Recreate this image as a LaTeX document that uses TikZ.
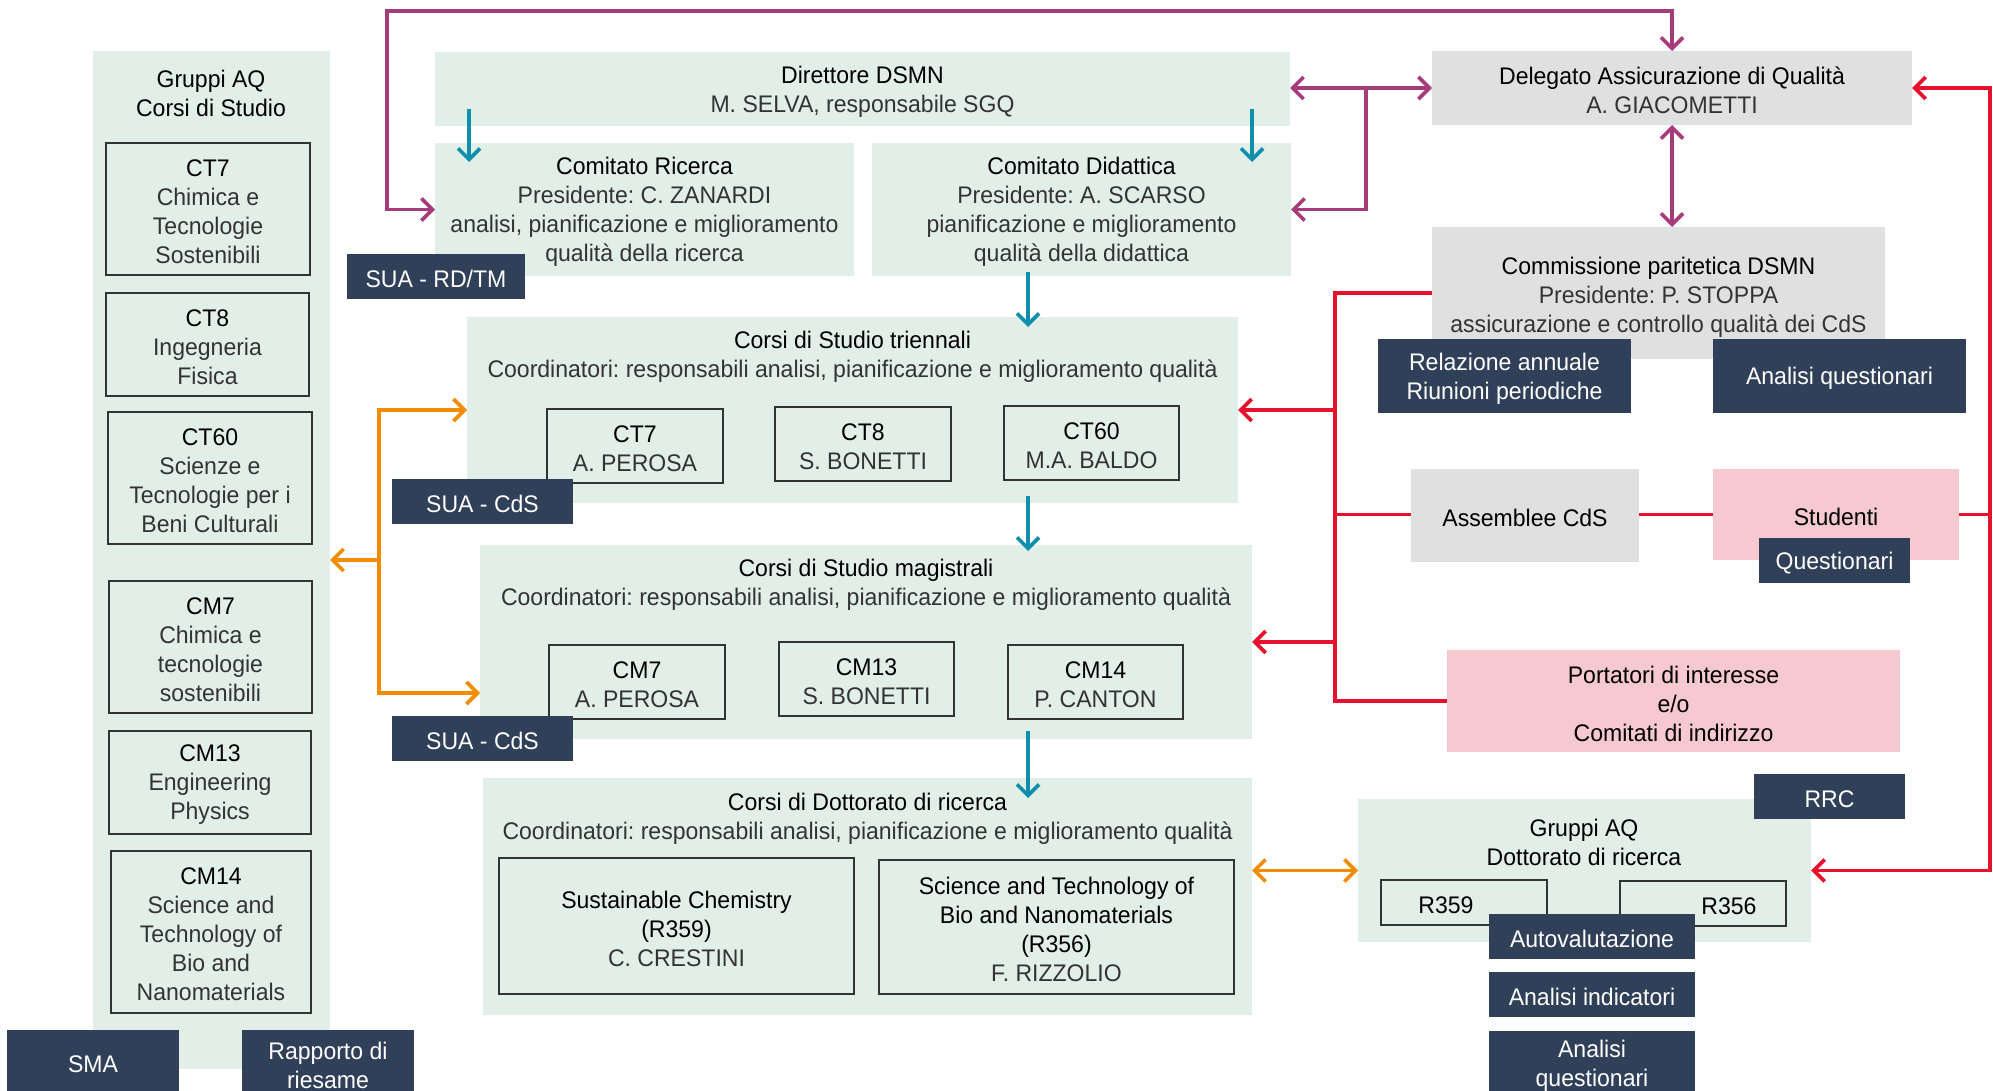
\documentclass[tikz,border=0pt]{standalone}
\usepackage{fontspec}
\setmainfont{Liberation Sans}[FakeStretch=0.96]
\usetikzlibrary{arrows.meta}
\definecolor{pgreen}{HTML}{E2EEE8}
\definecolor{pgrey}{HTML}{E0E0E0}
\definecolor{ppink}{HTML}{F6C8CF}
\definecolor{pnavy}{HTML}{2F4058}
\definecolor{cmag}{HTML}{A63D7A}
\definecolor{cteal}{HTML}{0F8FAA}
\definecolor{corng}{HTML}{F28C00}
\definecolor{cred}{HTML}{E8112D}
\definecolor{subtxt}{HTML}{333333}
\frenchspacing
\newcommand\sub[1]{{\color{subtxt}#1}}
\newcommand\mybox[7]{%
  \pgfmathsetmacro\bxcx{(#2+#4)/2}\pgfmathsetmacro\bxcy{(#3+#5)/2}%
  \pgfmathsetmacro\bxw{#4-#2}\pgfmathsetmacro\bxh{#5-#3}%
  \node[#6,minimum width=\bxw pt,minimum height=\bxh pt,inner sep=0pt,outer sep=0pt] (#1) at (\bxcx,\bxcy) {};
  \node[txt,#6,fill=none,draw=none] (#1t) at (\bxcx,\bxcy) {#7};}
\begin{document}
\begin{tikzpicture}[x=1pt,y=-1pt,
  every node/.style={font=\fontsize{24}{29}\selectfont},
  >={Straight Barb[length=11pt,width=22pt]},
  gbox/.style={fill=pgreen},
  greybox/.style={fill=pgrey},
  pinkbox/.style={fill=ppink},
  navybox/.style={fill=pnavy,text=white},
  subbox/.style={fill=pgreen,draw=black!80,line width=1.3pt},
  txt/.style={align=center,inner sep=0pt,yshift=-2.5pt},
  magl/.style={draw=cmag,line width=3.6pt},
  teall/.style={draw=cteal,line width=3.6pt,->},
  orngl/.style={draw=corng,line width=3.6pt},
  redl/.style={draw=cred,line width=3.8pt}]
\useasboundingbox (0,0) rectangle (1993,1091);
\clip (0,0) rectangle (1993,1091);
\fill[white] (0,0) rectangle (1993,1091);

% left panel
\mybox{lp}{93}{51}{330}{1069}{gbox}{}
\node[txt] (lpt) at (211,91) {Gruppi AQ\\Corsi di Studio};
\mybox{ct7}{106}{143}{310}{275}{subbox}{CT7\\\sub{Chimica e}\\\sub{Tecnologie}\\\sub{Sostenibili}}
\mybox{ct8}{106}{293}{309}{396}{subbox}{CT8\\\sub{Ingegneria}\\\sub{Fisica}}
\mybox{ct60}{108}{412}{312}{544}{subbox}{CT60\\\sub{Scienze e}\\\sub{Tecnologie per i}\\\sub{Beni Culturali}}
\mybox{cm7}{109}{581}{312}{713}{subbox}{CM7\\\sub{Chimica e}\\\sub{tecnologie}\\\sub{sostenibili}}
\mybox{cm13}{109}{731}{311}{834}{subbox}{CM13\\\sub{Engineering}\\\sub{Physics}}
\mybox{cm14}{111}{851}{311}{1013}{subbox}{CM14\\\sub{Science and}\\\sub{Technology of}\\\sub{Bio and}\\\sub{Nanomaterials}}
\mybox{sma}{7}{1030}{179}{1100}{navybox}{}
\node[txt,text=white] (smat) at (93,1062) {SMA};
\mybox{rap}{242}{1030}{414}{1100}{navybox}{}
\node[txt,text=white] (rapt) at (328,1063) {Rapporto di\\riesame};

% centre column
\mybox{dir}{435}{52}{1290}{126}{gbox}{Direttore DSMN\\\sub{M. SELVA, responsabile SGQ}}
\mybox{ric}{435}{143}{854}{276}{gbox}{Comitato Ricerca\\\sub{Presidente: C. ZANARDI}\\\sub{analisi, pianificazione e miglioramento}\\\sub{qualità della ricerca}}
\mybox{did}{872}{143}{1291}{276}{gbox}{Comitato Didattica\\\sub{Presidente: A. SCARSO}\\\sub{pianificazione e miglioramento}\\\sub{qualità della didattica}}
\mybox{suard}{347}{254}{525}{299}{navybox}{SUA - RD/TM}

\mybox{tri}{467}{317}{1238}{503}{gbox}{}
\node[txt] (trit) at (852.5,354.5) {Corsi di Studio triennali\\\sub{Coordinatori: responsabili analisi, pianificazione e miglioramento qualità}};
\mybox{tct7}{547}{409}{723}{483}{subbox}{CT7\\\sub{A. PEROSA}}
\mybox{tct8}{775}{407}{951}{481}{subbox}{CT8\\\sub{S. BONETTI}}
\mybox{tct60}{1004}{406}{1179}{480}{subbox}{CT60\\\sub{M.A. BALDO}}
\mybox{suac1}{392}{479}{573}{524}{navybox}{SUA - CdS}

\mybox{mag}{480}{545}{1252}{739}{gbox}{}
\node[txt] (magt) at (866,582.5) {Corsi di Studio magistrali\\\sub{Coordinatori: responsabili analisi, pianificazione e miglioramento qualità}};
\mybox{mcm7}{549}{645}{725}{719}{subbox}{CM7\\\sub{A. PEROSA}}
\mybox{mcm13}{779}{642}{954}{716}{subbox}{CM13\\\sub{S. BONETTI}}
\mybox{mcm14}{1008}{645}{1183}{719}{subbox}{CM14\\\sub{P. CANTON}}
\mybox{suac2}{392}{716}{573}{761}{navybox}{SUA - CdS}

\mybox{dot}{483}{778}{1252}{1015}{gbox}{}
\node[txt] (dott) at (867.5,816) {Corsi di Dottorato di ricerca\\\sub{Coordinatori: responsabili analisi, pianificazione e miglioramento qualità}};
\mybox{sus}{499}{858}{854}{994}{subbox}{Sustainable Chemistry\\(R359)\\\sub{C. CRESTINI}}
\mybox{sci}{879}{860}{1234}{994}{subbox}{Science and Technology of\\Bio and Nanomaterials\\(R356)\\\sub{F. RIZZOLIO}}

% right column
\mybox{del}{1432}{51}{1912}{125}{greybox}{Delegato Assicurazione di Qualità\\\sub{A. GIACOMETTI}}
\mybox{com}{1432}{227}{1885}{359}{greybox}{}
\node[txt] (comt) at (1658.5,295) {Commissione paritetica DSMN\\\sub{Presidente: P. STOPPA}\\\sub{assicurazione e controllo qualità dei CdS}};
\mybox{rel}{1378}{339}{1631}{413}{navybox}{Relazione annuale\\Riunioni periodiche}
\mybox{anq}{1713}{339}{1966}{413}{navybox}{Analisi questionari}
\mybox{ass}{1411}{469}{1639}{562}{greybox}{Assemblee CdS}
\mybox{stu}{1713}{469}{1959}{560}{pinkbox}{Studenti}
\mybox{que}{1759}{538}{1910}{583}{navybox}{Questionari}
\mybox{por}{1447}{650}{1900}{752}{pinkbox}{Portatori di interesse\\e/o\\Comitati di indirizzo}
\mybox{gdo}{1358}{799}{1811}{942}{gbox}{}
\node[txt] (gdot) at (1584,839.5) {Gruppi AQ\\Dottorato di ricerca};
\mybox{rrc}{1754}{774}{1905}{819}{navybox}{RRC}
\mybox{r359}{1381}{880}{1547}{925}{subbox}{}
\node[txt] (r359l) at (1446,903) {R359};
\mybox{r356}{1620}{881}{1786}{926}{subbox}{}
\node[txt] (r356l) at (1729,904) {R356};
\mybox{auto}{1489}{914}{1695}{959}{navybox}{Autovalutazione}
\mybox{anind}{1489}{972}{1695}{1017}{navybox}{Analisi indicatori}
\mybox{anq2}{1489}{1031}{1695}{1100}{navybox}{}
\node[txt,text=white] (anq2l) at (1592,1063) {Analisi\\questionari};

% magenta connectors
\coordinate (mgA) at (387,209.5);
\coordinate (mgB) at (1672,11);
\coordinate (mgJ) at (1366,88);
\draw[magl,<->] (ric.west) -- (mgA) |- (mgB) -- (del.north -| mgB);
\draw[magl,<->] (dir.east |- del.west) -- (del.west);
\draw[magl,->] (mgJ) |- (did.east);
\draw[magl,<->] (del.south -| mgB) -- (com.north -| mgB);

% teal connectors
\coordinate (t1a) at (469,109); \coordinate (t1b) at (469,162);
\coordinate (t2a) at (1252,109); \coordinate (t2b) at (1252,162);
\coordinate (t3a) at (1028,272); \coordinate (t3b) at (1028,327);
\coordinate (t4a) at (1028,496); \coordinate (t4b) at (1028,551);
\coordinate (t5a) at (1028,731); \coordinate (t5b) at (1028,798);
\draw[teall] (t1a) -- (t1b);
\draw[teall] (t2a) -- (t2b);
\draw[teall] (t3a) -- (t3b);
\draw[teall] (t4a) -- (t4b);
\draw[teall] (t5a) -- (t5b);

% orange connectors
\coordinate (oA) at (379,693);
\coordinate (oJ) at (379,560);
\draw[orngl,<->] (tri.west) -| (oA) -- (mag.west |- oA);
\draw[orngl,->] (oJ) -- (lp.east);
\draw[orngl,<->] (dot.east |- gdo.west) -- (gdo.west);

% red connectors
\coordinate (rB) at (1335,701);
\coordinate (rR) at (1990,870.5);
\coordinate (rS) at (1990,514.5);
\draw[redl] (com.west) -| (rB) -- (por.west);
\draw[redl,->] (rB |- tri.east) -- (tri.east);
\draw[redl,->] (rB |- mag.east) -- (mag.east);
\draw[redl] (rB |- rS) -- (ass.west |- rS);
\draw[redl] (ass.east |- rS) -- (stu.west |- rS);
\draw[redl] (stu.east |- rS) -- (rS);
\draw[redl,<->] (del.east) -| (rR) -- (gdo.east);
\end{tikzpicture}
\end{document}
